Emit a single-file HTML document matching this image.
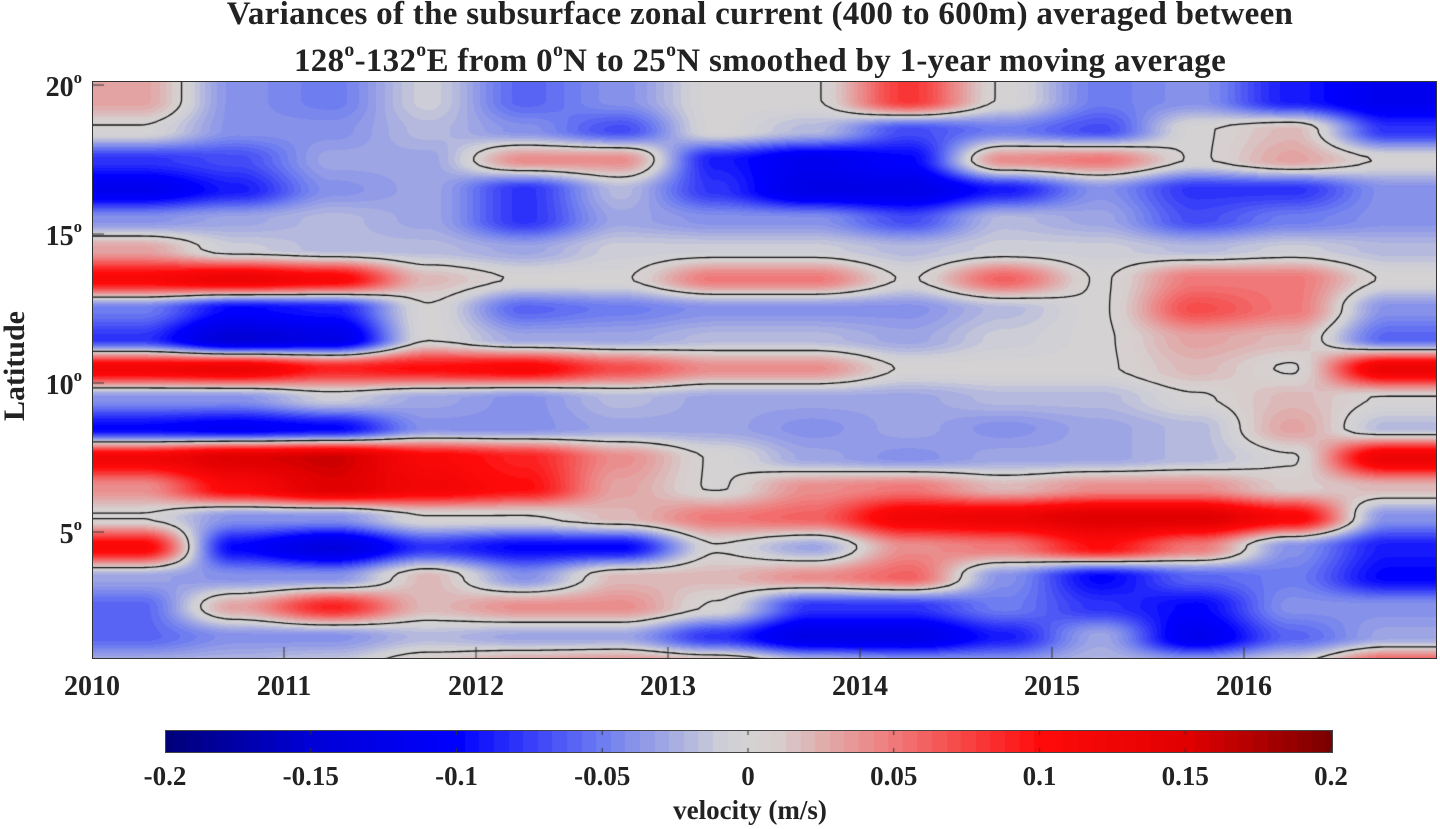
<!DOCTYPE html>
<html><head><meta charset="utf-8"><style>
body{margin:0;background:#fff;width:1440px;height:829px;overflow:hidden;position:relative;font-family:"Liberation Serif",serif;font-weight:bold;color:#222}
.t{position:absolute;white-space:nowrap}
#title{left:0;width:1520px;text-align:center;top:-9px;font-size:33px;line-height:47px;letter-spacing:0.3px}
sup{font-size:0.6em;vertical-align:0;position:relative;top:-0.75em}
.xt{top:671px;font-size:28px;transform:translateX(-50%)}
.yt{font-size:28px;text-align:right;width:82px;left:0;transform:translateY(-50%)}
.ct{top:761px;font-size:27px;transform:translateX(-50%)}
</style></head><body>
<div id="title" class="t">Variances of the subsurface zonal current (400 to 600m) averaged between<br>128<sup>o</sup>-132<sup>o</sup>E from 0<sup>o</sup>N to 25<sup>o</sup>N smoothed by 1-year moving average</div>
<div class="t" style="left:-50px;top:349px;font-size:30px;transform:rotate(-90deg);width:130px;text-align:center">Latitude</div>
<canvas id="plot" width="1345" height="578" style="position:absolute;left:92px;top:81px"></canvas>
<div style="position:absolute;left:92px;top:81px;width:1343px;height:576px;border:1px solid #333"></div>
<canvas id="cbar" width="1168" height="23" style="position:absolute;left:165px;top:730px"></canvas>
<div style="position:absolute;left:165px;top:730px;width:1166px;height:21px;border:1px solid #444"></div>
<div class="t" style="left:750px;top:795px;font-size:27px;transform:translateX(-50%)">velocity (m/s)</div>
<div id="labels"></div>
<script>
const years=["2010","2011","2012","2013","2014","2015","2016"];
const latTicks=[5,10,15,20];
const cbTicks=[-0.2,-0.15,-0.1,-0.05,0,0.05,0.1,0.15,0.2];
const cbLabels=["-0.2","-0.15","-0.1","-0.05","0","0.05","0.1","0.15","0.2"];
const rowLats=[19.5,18.5,17.5,16.5,15.5,14.5,13.5,12.5,11.5,10.5,9.5,8.5,7.5,6.5,5.5,4.5,3.5,2.5,1.5,0.5];
const colTimes=[2010.25,2010.75,2011.25,2011.75,2012.25,2012.75,2013.25,2013.75,2014.25,2014.75,2015.25,2015.75,2016.25,2016.75];
const velocity=[
[3,-4,-5,-1,-6,-4,0,0,8,0,-5,-4,-9,-12],
[0,-4,-4,-2,-4,-7,0,-2,-7,-5,-7,0,2,-8],
[-8,-7,-3,-3,4,4,-9,-12,-10,4,5,0,3,0],
[-12,-9,-4,-3,-8,-2,-8,-13,-13,-9,-4,-8,-8,-4],
[-4,-3,-2,-3,-8,-3,-4,-4,-7,-2,-3,-7,-5,-4],
[3,-1,-2,-2,-3,-1,-1,-1,-2,-1,-1,-2,-1,-2],
[11,13,11,2,0,0,5,5,0,6,0,5,5,0],
[-5,-10,-9,0,-6,-5,-4,-4,-4,-2,0,7,5,-4],
[-8,-15,-13,0,-3,-3,-2,-2,-3,-1,0,3,2,-6],
[12,13,9,10,11,7,4,4,0,0,0,2,0,13],
[-4,-4,-1,-3,-4,-2,-3,-3,-3,-2,-2,0,2,0],
[-10,-11,-10,-4,-4,-3,-3,-4,-3,-4,-3,-2,3,-2],
[12,15,16,11,9,4,0,-3,-4,-3,-3,-2,0,13],
[4,11,15,12,10,3,0,4,5,2,4,4,1,2],
[0,-4,-4,0,0,2,5,6,12,13,15,15,11,-4],
[11,-10,-14,-8,-10,-10,0,-3,4,5,10,5,-4,-9],
[-3,-4,-4,2,-4,2,2,4,6,-4,-10,-6,-5,-10],
[-6,3,9,2,4,4,0,-8,-8,-5,-8,-10,-4,-4],
[-6,-4,-4,-2,-3,-3,-8,-13,-13,-9,-3,-12,-6,-3],
[-2,-2,-1,2,4,5,4,0,-2,-3,-2,-2,0,8]];

const PL=92,PT=81,PW=1345,PH=578;
const T0=2010,LTOP=20+4/29.8;
const xOf=t=>PL+(t-T0)*192;
const yOf=l=>PT+(LTOP-l)*29.8;
const stops=[[-0.2,[0,0,120]],[-0.15,[0,0,215]],[-0.1,[0,0,255]],[-0.05,[110,125,240]],[-0.01,[205,205,215]],[0,[212,210,210]],[0.01,[215,205,205]],[0.05,[240,120,120]],[0.1,[255,10,10]],[0.15,[225,0,0]],[0.2,[120,0,0]]];
function cmap(v){v=Math.max(-0.2,Math.min(0.2,v));v=Math.round(v*200)/200;
 for(let i=0;i<stops.length-1;i++){const a=stops[i],b=stops[i+1];if(v<=b[0]){const f=(v-a[0])/(b[0]-a[0]);return a[1].map((c,k)=>Math.round(c+(b[1][k]-c)*f));}}return stops[stops.length-1][1];}
function interp(t,l){
 let fi=(rowLats[0]-l)/(rowLats[0]-rowLats[1]);fi=Math.max(0,Math.min(rowLats.length-1,fi));
 let fj=(t-colTimes[0])/(colTimes[1]-colTimes[0]);fj=Math.max(0,Math.min(colTimes.length-1,fj));
 const i0=Math.min(Math.floor(fi),rowLats.length-2),j0=Math.min(Math.floor(fj),colTimes.length-2);
 let a=fi-i0,b=fj-j0;a=a*a*(3-2*a);b=b*b*(3-2*b);
 const v=velocity[i0][j0]*(1-a)*(1-b)+velocity[i0][j0+1]*(1-a)*b+velocity[i0+1][j0]*a*(1-b)+velocity[i0+1][j0+1]*a*b;
 return v/100;}
const cv=document.getElementById('plot'),ctx=cv.getContext('2d');
const img=ctx.createImageData(PW,PH);
for(let y=0;y<PH;y++){const l=LTOP-y/29.8;for(let x=0;x<PW;x++){const t=T0+x/192;const c=cmap(interp(t,l));const p=(y*PW+x)*4;img.data[p]=c[0];img.data[p+1]=c[1];img.data[p+2]=c[2];img.data[p+3]=255;}}
ctx.putImageData(img,0,0);
const LEV=0.002;
const S=4,nx=Math.ceil(PW/S)+1,ny=Math.ceil(PH/S)+1,g=[];
for(let j=0;j<ny;j++){g.push([]);for(let i=0;i<nx;i++)g[j].push(interp(T0+i*S/192,LTOP-j*S/29.8)-LEV);}
ctx.strokeStyle='#111';ctx.lineWidth=1.3;ctx.beginPath();
function e(x1,y1,v1,x2,y2,v2){const f=v1/(v1-v2);return [x1+(x2-x1)*f,y1+(y2-y1)*f];}
for(let j=0;j<ny-1;j++)for(let i=0;i<nx-1;i++){
 const x=i*S,y=j*S,a=g[j][i],b=g[j][i+1],c=g[j+1][i+1],d=g[j+1][i];const pts=[];
 if((a>0)!=(b>0))pts.push(e(x,y,a,x+S,y,b));
 if((b>0)!=(c>0))pts.push(e(x+S,y,b,x+S,y+S,c));
 if((c>0)!=(d>0))pts.push(e(x+S,y+S,c,x,y+S,d));
 if((d>0)!=(a>0))pts.push(e(x,y+S,d,x,y,a));
 for(let k=0;k+1<pts.length;k+=2){ctx.moveTo(pts[k][0],pts[k][1]);ctx.lineTo(pts[k+1][0],pts[k+1][1]);}}
ctx.stroke();
ctx.strokeStyle='#333';ctx.lineWidth=1;ctx.beginPath();
years.forEach(yr=>{const x=xOf(+yr)-PL;ctx.moveTo(x,PH);ctx.lineTo(x,PH-12);});
latTicks.forEach(l=>{const y=yOf(l)-PT;ctx.moveTo(0,y);ctx.lineTo(12,y);});
ctx.stroke();
const cb=document.getElementById('cbar'),cx=cb.getContext('2d');
for(let x=0;x<1168;x++){const v=-0.2+0.4*x/1168;const c=cmap(v);cx.fillStyle=`rgb(${c[0]},${c[1]},${c[2]})`;cx.fillRect(x,0,1,23);}
const cbX=v=>165+(v+0.2)/0.4*1166;
cx.strokeStyle='#333';cx.beginPath();cbTicks.forEach(v=>{const x=cbX(v)-165;cx.moveTo(x,0);cx.lineTo(x,5);cx.moveTo(x,23);cx.lineTo(x,18);});cx.stroke();
const L=document.getElementById('labels');
years.forEach(yr=>{const d=document.createElement('div');d.className='t xt';d.style.left=xOf(+yr)+'px';d.textContent=yr;


L.appendChild(d);});
latTicks.forEach(l=>{const d=document.createElement('div');d.className='t yt';d.style.top=(yOf(l)+3)+'px';d.innerHTML=l+'<sup>o</sup>';


L.appendChild(d);});
cbTicks.forEach((v,i)=>{const d=document.createElement('div');d.className='t ct';d.style.left=cbX(v)+'px';d.textContent=cbLabels[i];


L.appendChild(d);});
</script>
</body></html>
